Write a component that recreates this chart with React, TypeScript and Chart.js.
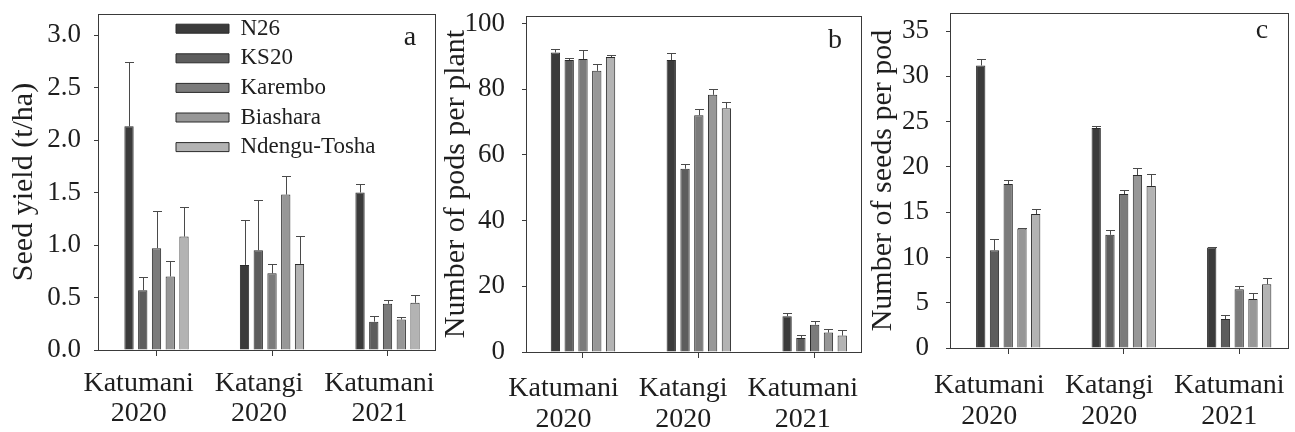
import React, { useEffect, useRef } from "react";
import { Chart, registerables } from "chart.js";

Chart.register(...registerables);

// ---------- data ----------
const varieties = ["N26", "KS20", "Karembo", "Biashara", "Ndengu-Tosha"];
const siteLabels = [
  ["Katumani", "2020"],
  ["Katangi", "2020"],
  ["Katumani", "2021"],
];
const siteIndex = [1, 2, 3];
const barColors = ["#3b3b3b", "#5d5d5d", "#7b7b7b", "#979797", "#b3b3b3"];

// rows = varieties, columns = sites
const seedYield = [
  [2.13, 0.81, 1.5],
  [0.57, 0.95, 0.27],
  [0.97, 0.73, 0.44],
  [0.7, 1.48, 0.29],
  [1.08, 0.82, 0.45],
];
const seedYieldErr = [
  [0.61, 0.43, 0.08],
  [0.13, 0.48, 0.05],
  [0.35, 0.09, 0.04],
  [0.15, 0.18, 0.02],
  [0.28, 0.27, 0.07],
];
const podsPerPlant = [
  [91.2, 88.9, 10.9],
  [88.9, 55.8, 4.3],
  [89.2, 72.1, 8.3],
  [85.6, 78.3, 5.9],
  [89.8, 74.2, 5.0],
];
const podsPerPlantErr = [
  [1.1, 2.1, 1.0],
  [0.7, 1.4, 1.0],
  [2.9, 1.8, 1.2],
  [2.2, 1.8, 1.0],
  [0.6, 1.9, 1.6],
];
const seedsPerPod = [
  [31.2, 24.3, 11.1],
  [10.8, 12.5, 3.2],
  [18.1, 17.0, 6.5],
  [13.2, 19.1, 5.4],
  [14.8, 17.9, 7.05],
];
const seedsPerPodErr = [
  [0.75, 0.22, 0.05],
  [1.2, 0.55, 0.4],
  [0.41, 0.4, 0.4],
  [0.08, 0.77, 0.7],
  [0.5, 1.3, 0.63],
];
const yieldTicks = [0, 0.5, 1.0, 1.5, 2.0, 2.5, 3.0];
const podTicks = [0, 20, 40, 60, 80, 100];
const seedTicks = [0, 5, 10, 15, 20, 25, 30, 35];

// ---------- style ----------
const FONT = "'Liberation Serif', 'Times New Roman', Times, serif";
const INK = "#1e1e1e";
const AXIS = "#3a3a3a";

Chart.defaults.font.family = FONT;
Chart.defaults.color = INK;

const framePlugin = {
  id: "frame",
  afterDraw(chart: any) {
    const { ctx, chartArea: a } = chart;
    ctx.save();
    ctx.strokeStyle = AXIS;
    ctx.lineWidth = 1;
    ctx.strokeRect(
      Math.round(a.left) + 0.5,
      Math.round(a.top) + 0.5,
      Math.round(a.right - a.left),
      Math.round(a.bottom - a.top)
    );
    ctx.restore();
  },
};

const errorBarPlugin = {
  id: "errorBars",
  afterDatasetsDraw(chart: any) {
    const { ctx } = chart;
    const yScale = chart.scales.y;
    ctx.save();
    ctx.strokeStyle = "#4a4a4a";
    ctx.lineWidth = 1;
    chart.data.datasets.forEach((ds: any, i: number) => {
      const meta = chart.getDatasetMeta(i);
      meta.data.forEach((bar: any, j: number) => {
        const v = ds.data[j].y;
        const e = ds.errors[j];
        const yTop = Math.round(yScale.getPixelForValue(v + e)) + 0.5;
        const x = Math.round(bar.x) + 0.5;
        ctx.beginPath();
        ctx.moveTo(x, bar.y);
        ctx.lineTo(x, yTop);
        ctx.moveTo(x - 4.5, yTop);
        ctx.lineTo(x + 4.5, yTop);
        ctx.stroke();
      });
    });
    ctx.restore();
  },
};

const letterPlugin = {
  id: "panelLetter",
  afterDraw(chart: any, _args: any, opts: any) {
    if (!opts || !opts.text) return;
    const { ctx, chartArea: a } = chart;
    ctx.save();
    ctx.font = `28px ${FONT}`;
    ctx.fillStyle = INK;
    ctx.textAlign = "center";
    ctx.textBaseline = "alphabetic";
    ctx.fillText(opts.text, a.right + opts.dx, a.top + opts.dy);
    ctx.restore();
  },
};

const legendShiftPlugin = {
  id: "legendShift",
  afterLayout(chart: any, _args: any, opts: any) {
    if (!opts || opts.left == null || !chart.legend) return;
    chart.legend.left = opts.left;
    chart.legend.top = opts.top;
  },
};

const noScalePadding = (s: any) => {
  s.paddingTop = 0;
  s.paddingBottom = 0;
  s.paddingLeft = 0;
  s.paddingRight = 0;
};

type PanelSpec = {
  values: number[][];
  errors: number[][];
  yTicks: number[];
  yMax: number;
  fmt: (v: number) => string;
  title: string;
  titlePad: number;
  yWidth: number;
  yPad: number;
  top: number;
  padRight: number;
  xMin: number;
  xMax: number;
  lMin: number;
  lMax: number;
  labelAxisHeight: number;
  labelPad: number;
  labelLineHeight: number;
  letter: string;
  letterDx: number;
  letterDy: number;
  legend: boolean;
  left: number;
  width: number;
};

function buildConfig(p: PanelSpec): any {
  const datasets = varieties.map((name, k) => ({
    label: name,
    data: siteIndex.map((x, i) => ({ x, y: p.values[k][i] })),
    errors: p.errors[k],
    backgroundColor: barColors[k],
    borderColor: "#2b2b2b",
    borderWidth: 1,
    categoryPercentage: 0.595,
    barPercentage: 0.676,
    xAxisID: "x",
    yAxisID: "y",
  }));
  const setSiteTicks = (s: any) => {
    s.ticks = siteIndex.map((v) => ({ value: v }));
  };
  return {
    type: "bar",
    data: { datasets },
    options: {
      animation: false,
      responsive: false,
      events: [],
      layout: { padding: { top: p.top, right: p.padRight, left: 0, bottom: 0 } },
      plugins: {
        legend: p.legend
          ? {
              display: true,
              position: "chartArea",
              align: "start",
              labels: {
                boxWidth: 53,
                boxHeight: 9,
                padding: 6.6,
                color: INK,
                font: { size: 23, family: FONT },
              },
            }
          : { display: false },
        tooltip: { enabled: false },
        panelLetter: { text: p.letter, dx: p.letterDx, dy: p.letterDy },
        legendShift: p.legend ? { left: 176 - 6.6, top: 10.6 } : {},
      },
      scales: {
        x: {
          type: "linear",
          position: "bottom",
          min: p.xMin,
          max: p.xMax,
          offset: false,
          weight: 0,
          grid: {
            display: true,
            offset: false,
            drawOnChartArea: false,
            drawTicks: true,
            tickLength: 6,
            color: AXIS,
            lineWidth: 1,
          },
          border: { display: true, color: AXIS, width: 1 },
          ticks: { display: false },
          afterBuildTicks: setSiteTicks,
          afterFit: (s: any) => {
            s.height = 6;
            noScalePadding(s);
          },
        },
        xl: {
          type: "linear",
          axis: "x",
          position: "bottom",
          min: p.lMin,
          max: p.lMax,
          offset: false,
          weight: 1,
          grid: { display: false, drawTicks: false, drawOnChartArea: false },
          border: { display: false },
          ticks: {
            padding: p.labelPad,
            color: INK,
            font: { size: 28, family: FONT, lineHeight: p.labelLineHeight },
            maxRotation: 0,
            minRotation: 0,
            autoSkip: false,
            callback: (v: number) => siteLabels[Math.round(v) - 1] ?? "",
          },
          afterBuildTicks: setSiteTicks,
          afterFit: (s: any) => {
            s.height = p.labelAxisHeight;
            noScalePadding(s);
          },
        },
        y: {
          type: "linear",
          position: "left",
          min: 0,
          max: p.yMax,
          grid: {
            drawOnChartArea: false,
            drawTicks: true,
            tickLength: 4,
            color: AXIS,
          },
          border: { display: true, color: AXIS, width: 1 },
          ticks: {
            padding: p.yPad,
            color: INK,
            autoSkip: false,
            font: { size: 27, family: FONT },
            callback: (v: number) => p.fmt(v),
          },
          afterBuildTicks: (s: any) => {
            s.ticks = p.yTicks.map((v) => ({ value: v }));
          },
          title: {
            display: true,
            text: p.title,
            color: INK,
            font: { size: 30, family: FONT, lineHeight: 1 },
            padding: { top: p.titlePad, bottom: 0 },
          },
          afterFit: (s: any) => {
            s.width = p.yWidth;
            noScalePadding(s);
          },
        },
      },
    },
    plugins: [framePlugin, errorBarPlugin, letterPlugin, legendShiftPlugin],
  };
}

const panels: PanelSpec[] = [
  {
    values: seedYield,
    errors: seedYieldErr,
    yTicks: yieldTicks,
    yMax: 3.2,
    fmt: (v) => v.toFixed(1),
    title: "Seed yield (t/ha)",
    titlePad: 9,
    yWidth: 98,
    yPad: 13,
    top: 14,
    padRight: 3,
    xMin: 0.4935,
    xMax: 3.411,
    lMin: 0.662,
    lMax: 3.462,
    labelAxisHeight: 76,
    labelPad: 13,
    labelLineHeight: 30 / 28,
    letter: "a",
    letterDx: -25,
    letterDy: 31,
    legend: true,
    left: 0,
    width: 438,
  },
  {
    values: podsPerPlant,
    errors: podsPerPlantErr,
    yTicks: podTicks,
    yMax: 102.3,
    fmt: (v) => String(v),
    title: "Number of pods per plant",
    titlePad: 3,
    yWidth: 88,
    yPad: 17,
    top: 16,
    padRight: 5,
    xMin: 0.508,
    xMax: 3.4,
    lMin: 0.686,
    lMax: 3.487,
    labelAxisHeight: 74,
    labelPad: 15,
    labelLineHeight: 31 / 28,
    letter: "b",
    letterDx: -26,
    letterDy: 32,
    legend: false,
    left: 438,
    width: 428,
  },
  {
    values: seedsPerPod,
    errors: seedsPerPodErr,
    yTicks: seedTicks,
    yMax: 37,
    fmt: (v) => String(v),
    title: "Number of seeds per pod",
    titlePad: 2,
    yWidth: 84,
    yPad: 17,
    top: 13,
    padRight: 7,
    xMin: 0.496,
    xMax: 3.4225,
    lMin: 0.673,
    lMax: 3.49,
    labelAxisHeight: 78,
    labelPad: 16,
    labelLineHeight: 31 / 28,
    letter: "c",
    letterDx: -26,
    letterDy: 25,
    legend: false,
    left: 866,
    width: 429,
  },
];

function Panel({ spec }: { spec: PanelSpec }) {
  const ref = useRef<HTMLCanvasElement | null>(null);
  useEffect(() => {
    if (!ref.current) return;
    const chart = new Chart(ref.current, buildConfig(spec));
    return () => chart.destroy();
  }, [spec]);
  return (
    <div
      style={{
        position: "absolute",
        left: spec.left,
        top: 0,
        width: spec.width,
        height: 432,
      }}
    >
      <canvas
        ref={ref}
        width={spec.width}
        height={432}
        style={{ display: "block", width: spec.width, height: 432 }}
      />
    </div>
  );
}

export default function App() {
  return (
    <div
      style={{
        position: "absolute",
        left: 0,
        top: 0,
        width: 1295,
        height: 432,
        background: "#ffffff",
        overflow: "hidden",
      }}
    >
      {panels.map((p, i) => (
        <Panel key={i} spec={p} />
      ))}
    </div>
  );
}
